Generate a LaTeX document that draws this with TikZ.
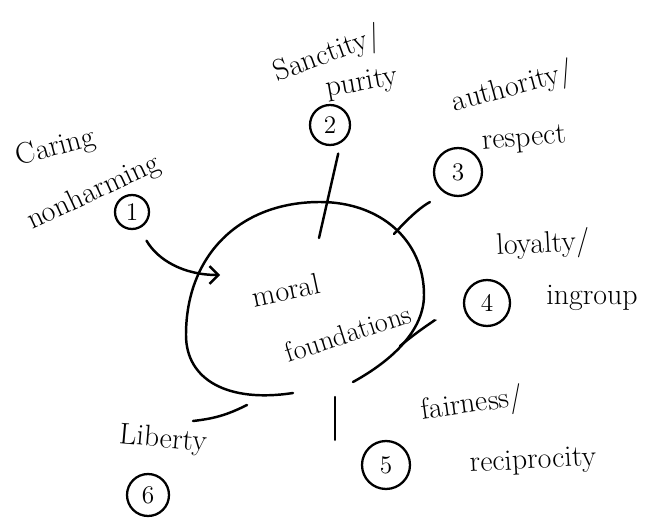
\documentclass[tikz,border=0pt]{standalone}
\usepackage{tikz}
\usetikzlibrary{arrows.meta}

\begin{document}
\begin{tikzpicture}
[x=0.02cm, y=-0.02cm,
 word/.style={font=\fontsize{17}{20}\selectfont, inner sep=0pt},
 num/.style={circle, draw, line width=1.3pt, inner sep=0pt, font=\Large},
 pen/.style={line width=1.4pt, line cap=round},
 barb/.style={pen, arrows={-Straight Barb[length=5pt, width=10pt]}}]
\useasboundingbox (0,0) rectangle (652,523);
\node[word, rotate=15] (care) at (56,148) {Caring};
\node[word, rotate=25] (nonharm) at (94,193) {nonharming};
\node[num, minimum size=0.68cm] (c1) at (132,212) {1};
\node[word, rotate=20] (sanct) at (328,55) {Sanctity/};
\node[word, rotate=10] (purity) at (362,84) {purity};
\node[num, minimum size=0.8cm] (c2) at (330,125) {2};
\node[word, rotate=15] (auth) at (513,88) {authority/};
\node[word, rotate=5] (respect) at (524,140) {respect};
\node[num, minimum size=0.96cm] (c3) at (458,172) {3};
\node[word, rotate=3] (loyal) at (543,245) {loyalty/};
\node[word] (ingroup) at (592,298) {ingroup};
\node[num, minimum size=0.92cm] (c4) at (487,303) {4};
\node[word, rotate=8] (fair) at (472,405) {fairness/};
\node[word, rotate=3] (recip) at (533,462) {reciprocity};
\node[num, minimum size=0.96cm] (c5) at (386,465) {5};
\node[word, rotate=-5] (lib) at (163,440) {Liberty};
\node[num, minimum size=0.84cm] (c6) at (148,495) {6};
\node[word, rotate=12] (moral) at (286,290) {moral};
\node[word, rotate=18, font=\fontsize{16}{19}\selectfont] (found) at (348,333) {foundations};
\draw[pen] (293,393) .. controls (228,403) and (186,380) .. (186,335)
  .. controls (186,255) and (240,202) .. (320,202)
  .. controls (380,202) and (424,240) .. (424,295)
  .. controls (424,330) and (393,360) .. (353,382);
\coordinate (in1) at (220,275);
\coordinate (in2) at (319,238);
\coordinate (in3) at (394,234);
\coordinate (in4) at (400,346);
\coordinate (gap) at (335,397);
\coordinate (fl1) at (247,405);
\coordinate (fl2) at (193,421);
\draw[barb, shorten <=8pt] (c1) to [bend right=30] (in1);
\draw[pen, shorten <=6pt] (c2.-60) -- (in2);
\draw[pen, shorten <=10pt] (c3.-120) to [bend right=10] (in3);
\draw[pen, shorten >=18pt] (in4) to [bend left=10] (c4);
\draw[pen] (gap) -- (gap |- c5.north);
\draw[pen] (fl1) to [bend left=10] (fl2);
\end{tikzpicture}
\end{document}
